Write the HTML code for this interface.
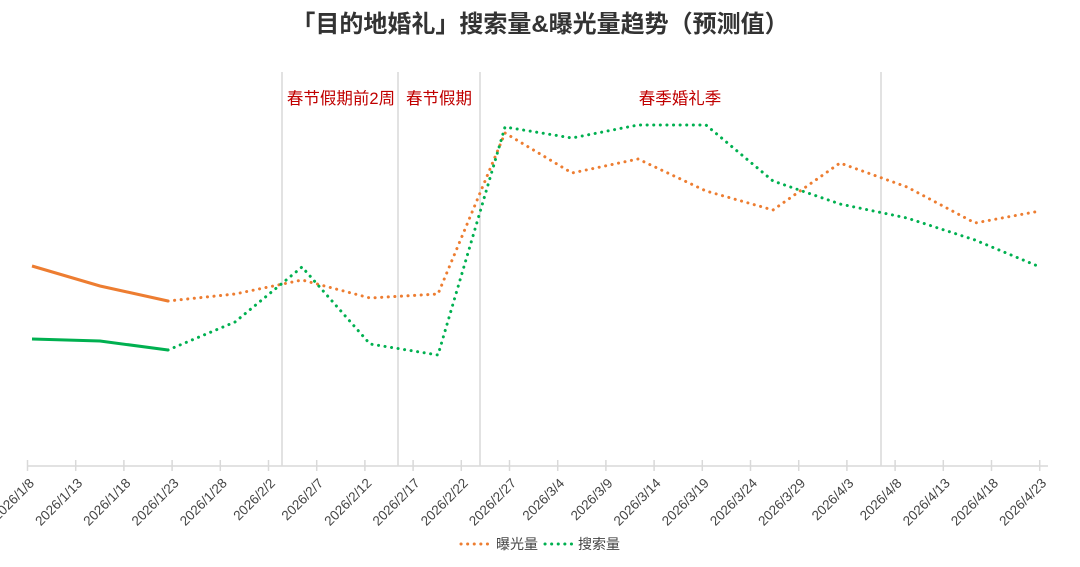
<!DOCTYPE html>
<html><head><meta charset="utf-8"><style>
html,body{margin:0;padding:0;background:#fff;}
svg{display:block;font-family:"Liberation Sans","Noto Sans CJK SC",sans-serif;}
</style></head><body>
<svg width="1080" height="567" viewBox="0 0 1080 567" xmlns="http://www.w3.org/2000/svg">
<text x="540" y="32" text-anchor="middle" font-size="24" font-weight="bold" fill="#333">「目的地婚礼」搜索量&amp;曝光量趋势（预测值）</text>
<g stroke="#d9d9d9" stroke-width="1.5">
<line x1="282" y1="72" x2="282" y2="466"/>
<line x1="398" y1="72" x2="398" y2="466"/>
<line x1="480" y1="72" x2="480" y2="466"/>
<line x1="881" y1="72" x2="881" y2="466"/>
<line x1="27" y1="466" x2="1048" y2="466"/>
</g>
<g font-size="16.5" fill="#c00000" text-anchor="middle">
<text x="341" y="104">春节假期前2周</text>
<text x="439" y="104">春节假期</text>
<text x="680" y="104">春季婚礼季</text>
</g>
<polyline fill="none" stroke="#ED7D31" stroke-width="3" points="32,266 100,286 168,301"/>
<polyline fill="none" stroke="#00B050" stroke-width="3" points="32,339 100,341 168,350"/>
<polyline fill="none" stroke="#ED7D31" stroke-width="3" stroke-dasharray="0.1 6.5" stroke-linecap="round" points="168,301 235,294 302,280 370,298 438,294 505,133 572,173 638,159 706,191 773,210 840,163 907,187 975,223 1040,211"/>
<polyline fill="none" stroke="#00B050" stroke-width="3" stroke-dasharray="0.1 6.5" stroke-linecap="round" points="168,350 235,322 302,267 370,344 438,355 505,127 572,138 638,125 706,125 773,181 840,204 907,218 975,240 1040,267"/>
<line x1="461" y1="544" x2="490" y2="544" stroke="#ED7D31" stroke-width="3" stroke-dasharray="0.1 6.5" stroke-linecap="round"/>
<text x="496" y="549" font-size="14" fill="#444">曝光量</text>
<line x1="545" y1="544" x2="572" y2="544" stroke="#00B050" stroke-width="3" stroke-dasharray="0.1 6.5" stroke-linecap="round"/>
<text x="578" y="549" font-size="14" fill="#444">搜索量</text>
<g stroke="#d9d9d9" stroke-width="1.5">
<line x1="27.5" y1="460" x2="27.5" y2="471"/><line x1="75.7" y1="460" x2="75.7" y2="471"/><line x1="123.9" y1="460" x2="123.9" y2="471"/><line x1="172.1" y1="460" x2="172.1" y2="471"/><line x1="220.3" y1="460" x2="220.3" y2="471"/><line x1="268.5" y1="460" x2="268.5" y2="471"/><line x1="316.7" y1="460" x2="316.7" y2="471"/><line x1="364.9" y1="460" x2="364.9" y2="471"/><line x1="413.1" y1="460" x2="413.1" y2="471"/><line x1="461.3" y1="460" x2="461.3" y2="471"/><line x1="509.5" y1="460" x2="509.5" y2="471"/><line x1="557.7" y1="460" x2="557.7" y2="471"/><line x1="605.9" y1="460" x2="605.9" y2="471"/><line x1="654.1" y1="460" x2="654.1" y2="471"/><line x1="702.3" y1="460" x2="702.3" y2="471"/><line x1="750.5" y1="460" x2="750.5" y2="471"/><line x1="798.7" y1="460" x2="798.7" y2="471"/><line x1="846.9" y1="460" x2="846.9" y2="471"/><line x1="895.1" y1="460" x2="895.1" y2="471"/><line x1="943.3" y1="460" x2="943.3" y2="471"/><line x1="991.5" y1="460" x2="991.5" y2="471"/><line x1="1039.7" y1="460" x2="1039.7" y2="471"/>
</g>
<g font-size="13.5" fill="#444" text-anchor="end">
<text transform="translate(35,484) rotate(-45)">2026/1/8</text>
<text transform="translate(83.2,484) rotate(-45)">2026/1/13</text>
<text transform="translate(131.4,484) rotate(-45)">2026/1/18</text>
<text transform="translate(179.6,484) rotate(-45)">2026/1/23</text>
<text transform="translate(227.8,484) rotate(-45)">2026/1/28</text>
<text transform="translate(276,484) rotate(-45)">2026/2/2</text>
<text transform="translate(324.2,484) rotate(-45)">2026/2/7</text>
<text transform="translate(372.4,484) rotate(-45)">2026/2/12</text>
<text transform="translate(420.6,484) rotate(-45)">2026/2/17</text>
<text transform="translate(468.8,484) rotate(-45)">2026/2/22</text>
<text transform="translate(517,484) rotate(-45)">2026/2/27</text>
<text transform="translate(565.2,484) rotate(-45)">2026/3/4</text>
<text transform="translate(613.4,484) rotate(-45)">2026/3/9</text>
<text transform="translate(661.6,484) rotate(-45)">2026/3/14</text>
<text transform="translate(709.8,484) rotate(-45)">2026/3/19</text>
<text transform="translate(758,484) rotate(-45)">2026/3/24</text>
<text transform="translate(806.2,484) rotate(-45)">2026/3/29</text>
<text transform="translate(854.4,484) rotate(-45)">2026/4/3</text>
<text transform="translate(902.6,484) rotate(-45)">2026/4/8</text>
<text transform="translate(950.8,484) rotate(-45)">2026/4/13</text>
<text transform="translate(999,484) rotate(-45)">2026/4/18</text>
<text transform="translate(1047.2,484) rotate(-45)">2026/4/23</text>
</g>
</svg>
</body></html>
